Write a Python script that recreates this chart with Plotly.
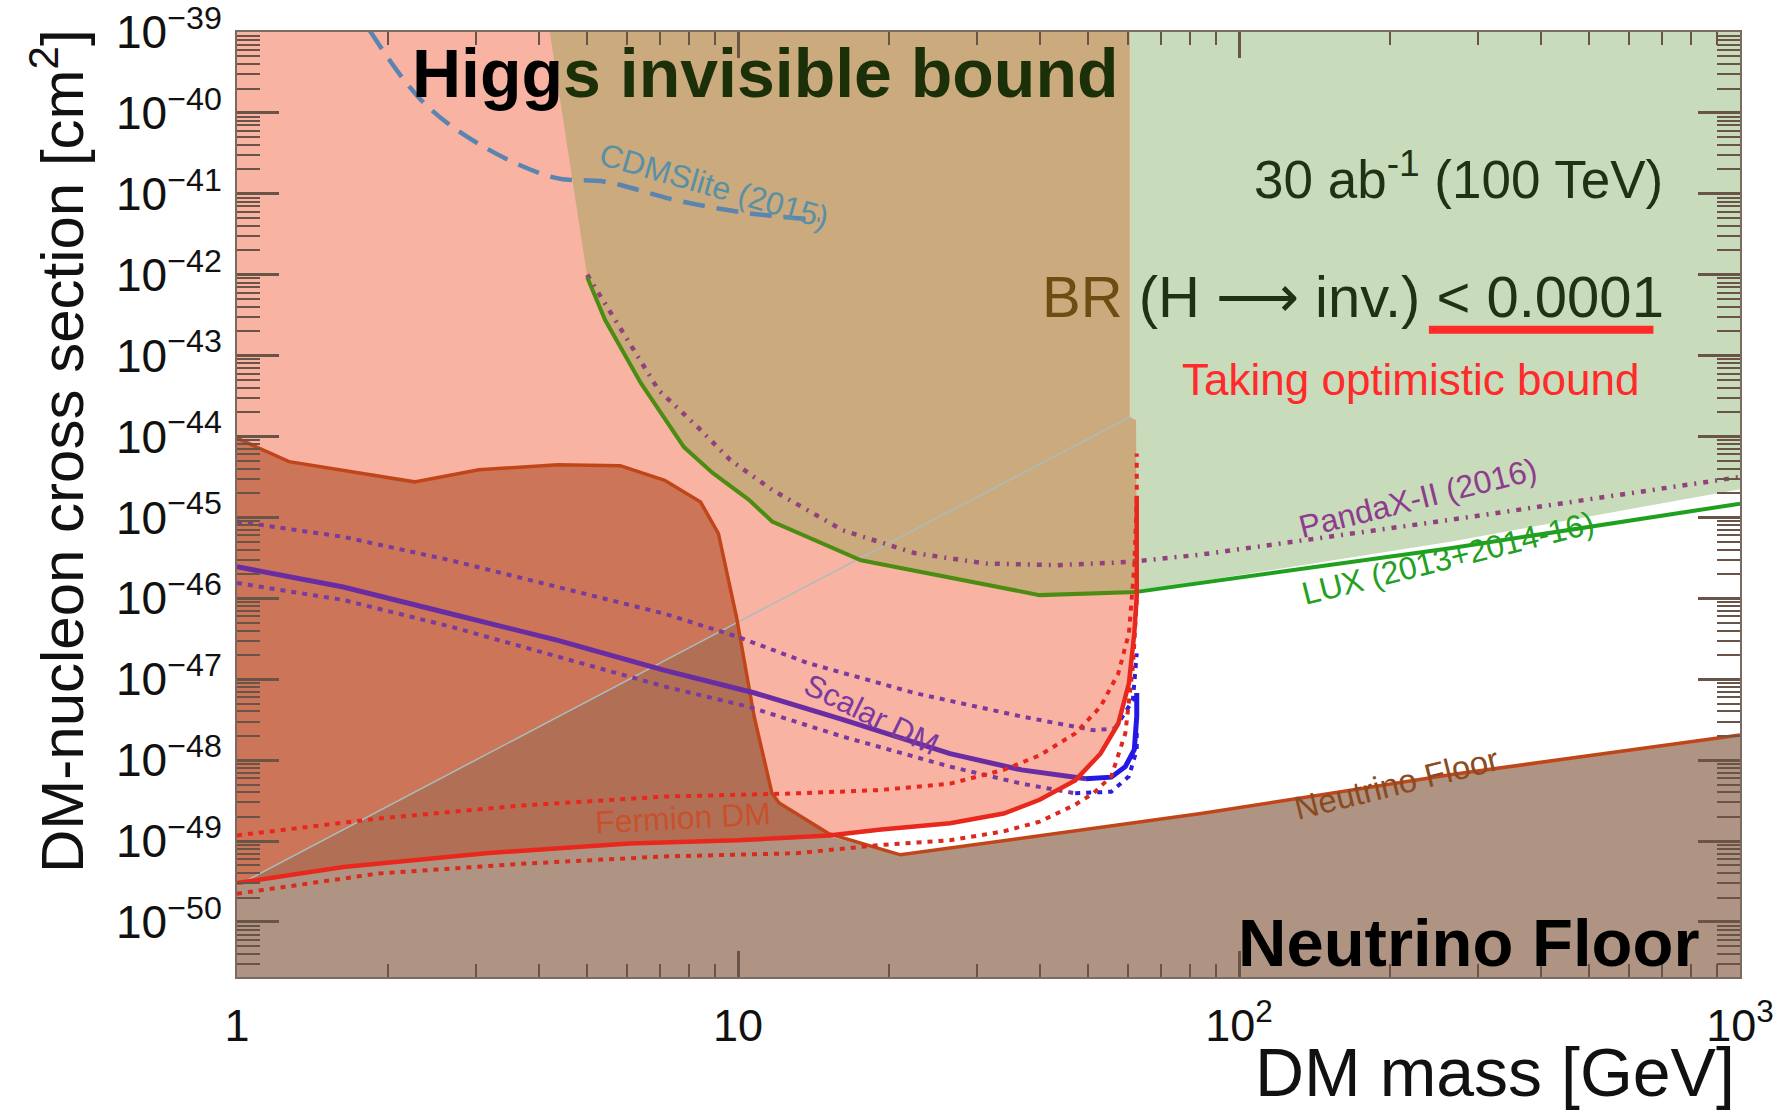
import plotly.graph_objects as go
import numpy as np

# ---------------- data (DM mass in GeV, log10 of cross section in cm^2) ----------------
fermion_mass = [1.0, 1.63, 3.14, 6.06, 10.0, 15.2, 19.1, 26.5, 33.9, 40.0, 47.1, 52.9, 57.4, 60.3, 61.8, 62.5, 62.5]
fermion_logsig = [-49.52, -49.32, -49.15, -49.03, -48.99, -48.93, -48.86, -48.78, -48.66, -48.49, -48.25,
                  -47.92, -47.55, -47.05, -46.43, -45.98, -44.74]

fermion_up_mass = [1.0, 1.92, 3.7, 7.14, 13.1, 19.1, 26.5, 33.9, 40.0, 47.1, 52.9, 57.4, 60.3, 61.8, 62.5, 62.5]
fermion_up_logsig = [-48.93, -48.72, -48.56, -48.45, -48.41, -48.37, -48.29, -48.12, -47.94, -47.67, -47.34,
                     -46.93, -46.43, -45.61, -44.79, -44.21]

fermion_lo_mass = [1.0, 1.92, 3.7, 7.14, 13.1, 19.1, 26.5, 33.9, 40.0, 47.1, 51.2, 55.6, 59.3, 61.4, 62.5]
fermion_lo_logsig = [-49.65, -49.40, -49.28, -49.19, -49.15, -49.05, -48.99, -48.88, -48.76, -48.55, -48.41,
                     -48.20, -47.67, -46.85, -46.02]

scalar_mass = [1.0, 1.63, 2.67, 4.37, 7.14, 10.8, 16.2, 26.5, 36.8, 49.5]
scalar_logsig = [-45.61, -45.86, -46.19, -46.52, -46.89, -47.17, -47.50, -47.92, -48.12, -48.23]
scalar_res_mass = [49.5, 55.6, 59.3, 61.8, 62.5, 62.5]
scalar_res_logsig = [-48.23, -48.21, -48.08, -47.87, -47.46, -47.17]

scalar_up_mass = [1.0, 1.63, 2.67, 4.37, 7.14, 9.93, 13.8, 22.5, 36.8, 51.2, 56.5]
scalar_up_logsig = [-45.05, -45.24, -45.53, -45.86, -46.19, -46.47, -46.80, -47.17, -47.46, -47.63, -47.61]
scalar_up_res_mass = [56.5, 61.4, 62.5]
scalar_up_res_logsig = [-47.61, -47.26, -46.68]

scalar_lo_mass = [1.0, 1.63, 2.67, 4.37, 7.14, 10.5, 16.2, 26.5, 36.8, 47.1]
scalar_lo_logsig = [-45.81, -46.02, -46.35, -46.72, -47.09, -47.34, -47.71, -48.08, -48.29, -48.41]
scalar_lo_res_mass = [47.1, 55.6, 60.3, 62.5, 62.5]
scalar_lo_res_logsig = [-48.41, -48.39, -48.20, -47.87, -47.60]

lux_mass = [5.0, 5.43, 6.4, 7.8, 8.9, 10.5, 11.7, 17.6, 40.0, 62.5, 83.7, 264, 1000]
lux_logsig = [-42.03, -42.56, -43.34, -44.13, -44.45, -44.78, -45.05, -45.53, -45.96, -45.92, -45.81, -45.38, -44.83]

pandax_mass = [5.0, 5.9, 6.95, 8.3, 9.65, 11.7, 16.2, 22.5, 31.3, 43.4, 60.3, 83.7, 264, 1000]
pandax_logsig = [-42.0, -42.72, -43.43, -43.88, -44.29, -44.66, -45.16, -45.44, -45.57, -45.59, -45.55,
                 -45.46, -45.03, -44.50]

cdms_mass = [1.84, 2.33, 3.03, 4.3, 5.43, 7.54, 10.5, 14.55]
cdms_logsig = [-38.98, -39.84, -40.38, -40.80, -40.85, -41.08, -41.24, -41.32]

floor_mass = [1.0, 1.63, 3.14, 6.06, 10.0, 15.2, 21.1, 84.0, 264, 1000]
floor_logsig = [-49.53, -49.33, -49.16, -49.04, -49.0, -48.94, -49.17, -48.66, -48.18, -47.69]

dark_mass = [1.0, 1.27, 2.26, 3.04, 4.37, 5.82, 7.14, 8.42, 9.14, 9.93, 10.77, 11.69, 12.08, 15.19]
dark_logsig = [-44.02, -44.31, -44.56, -44.41, -44.35, -44.36, -44.54, -44.81, -45.20, -46.23, -47.46,
               -48.41, -48.53, -48.91]

diag_mass = [1.0, 9.95, 60.5]
diag_logsig = [-49.55, -46.30, -43.76]

tan_left_mass = [4.21, 5.0]
tan_left_logsig = [-39.0, -42.02]
tan_right_mass = [62.3, 60.5, 60.5]
tan_right_logsig = [-43.8, -43.76, -39.0]

green_low_mass = [62.5, 83.7, 264, 1000]
green_low_logsig = [-45.92, -45.79, -45.30, -44.65]

x_tick_vals = [1, 10, 100, 1000]
x_tick_text = ["1", "10", "10<sup>2</sup>", "10<sup>3</sup>"]
y_tick_exp = list(range(-50, -38))
y_tick_text = ["10<sup>\u2212%d</sup>" % (-e) for e in y_tick_exp]

TOP = -39.0
BOTTOM = -51.0
XMAX = 1000.0


def s(v):
    return [10.0 ** a for a in v]


fig = go.Figure()


def poly(xs, ls, color):
    fig.add_trace(go.Scatter(x=xs, y=s(ls), fill="toself", fillcolor=color, mode="lines",
                             line=dict(width=0, color=color), hoverinfo="skip", showlegend=False))


def line(xs, ls, color, width, dash="solid", shape="linear"):
    fig.add_trace(go.Scatter(x=xs, y=s(ls), mode="lines",
                             line=dict(color=color, width=width, dash=dash, shape=shape),
                             hoverinfo="skip", showlegend=False))


# pink region (above fermion curve, below Higgs threshold)
pink_x = [1.0, 62.5] + fermion_mass[::-1]
pink_l = [TOP, TOP] + fermion_logsig[::-1]
poly(pink_x, pink_l, "#F9B3A3")

# dark region
fl_x = [m for m in fermion_mass if m <= 15.2]
fl_l = fermion_logsig[:len(fl_x)]
poly(dark_mass + fl_x[::-1], dark_logsig + fl_l[::-1], "#CC7559")

# darker part below the diagonal
sub_x = [diag_mass[0], diag_mass[1]] + [m for m in dark_mass if m > diag_mass[1]]
sub_l = [diag_logsig[0], diag_logsig[1]] + [l for m, l in zip(dark_mass, dark_logsig) if m > diag_mass[1]]
poly(sub_x + fl_x[::-1], sub_l + fl_l[::-1], "#B17056")

# neutrino floor
poly(floor_mass + [XMAX, 1.0], floor_logsig + [BOTTOM, BOTTOM], "#B09483")

# green region (excluded by LUX / PandaX)
poly([tan_right_mass[2], XMAX] + green_low_mass[::-1] + tan_right_mass[:2],
     [TOP, TOP] + green_low_logsig[::-1] + tan_right_logsig[:2], "#C8DBBA")

# tan region (Higgs invisible)
lux_in_x = [m for m in lux_mass if m <= 62.5]
lux_in_l = lux_logsig[:len(lux_in_x)]
poly(tan_left_mass + lux_in_x[1:] + tan_right_mass, tan_left_logsig + lux_in_l[1:] + tan_right_logsig, "#CBAA7D")

# thin diagonal line
line(diag_mass, diag_logsig, "#A9BDBE", 1.5)

# dark region outline + neutrino floor line
fr_x = [m for m in floor_mass if m >= 21.1]
fr_l = floor_logsig[-len(fr_x):]
line(dark_mass + fr_x, dark_logsig + fr_l, "#C0461A", 3.5)

# experiments
line(cdms_mass, cdms_logsig, "#5B84B0", 4.5, dash="22px,12px", shape="spline")
line(pandax_mass, pandax_logsig, "#93407F", 4.5, dash="5px,7px,2px,7px")
lux_out_x = [m for m in lux_mass if m >= 62.5]
lux_out_l = lux_logsig[-len(lux_out_x):]
line(lux_in_x, lux_in_l, "#4C8C12", 4)
line(lux_out_x, lux_out_l, "#1FA01F", 4)

# scalar DM
line(scalar_up_mass, scalar_up_logsig, "#7A3A9E", 4, dash="5px,6px")
line(scalar_lo_mass, scalar_lo_logsig, "#7A3A9E", 4, dash="5px,6px")
line(scalar_mass, scalar_logsig, "#6A2CA2", 5)
line(scalar_up_res_mass, scalar_up_res_logsig, "#2A1EE0", 4, dash="5px,6px")
line(scalar_lo_res_mass, scalar_lo_res_logsig, "#2A1EE0", 4, dash="5px,6px")
line(scalar_res_mass, scalar_res_logsig, "#2418E6", 5)

# fermion DM
line(fermion_up_mass, fermion_up_logsig, "#E8261E", 4, dash="5px,6px")
line(fermion_lo_mass, fermion_lo_logsig, "#D92A1E", 4, dash="5px,6px")
line(fermion_mass, fermion_logsig, "#E8281C", 4.5)

# ---------------- annotations ----------------
FONT = "Liberation Sans, Arial, sans-serif"


def ann(x, y, text, size, color, angle=0, xanchor="center", yanchor="middle", bold=False, xref="x", yref="y"):
    fig.add_annotation(x=x, y=y, xref=xref, yref=yref, text=("<b>%s</b>" % text) if bold else text,
                       showarrow=False, textangle=angle, xanchor=xanchor, yanchor=yanchor,
                       font=dict(family=FONT, size=size, color=color))


ann(1.054, -39.51, "Higg<span style='color:#1B3008'>s invisible bound</span>", 68, "#000000", bold=True)
ann(2.459, -50.25, "Neutrino Floor", 67, "#000000", bold=True)
ann(2.438, -40.77, "30 ab<sup>-1</sup> (100 TeV)", 53, "#1E3214")
ann(2.228, -42.27, "<span style='color:#6E4C12'>BR</span> (H \u27f6 inv.) &lt; 0.0001", 58, "#1E3214")
ann(2.343, -43.30, "Taking optimistic bound", 44, "#FF2A2A")
ann(0.953, -40.90, "CDMSlite (2015)", 32, "#5A90A6", angle=16)
ann(2.358, -44.76, "PandaX-II (2016)", 32, "#8E3C8E", angle=-14)
ann(2.418, -45.50, "LUX (2013+2014-16)", 32, "#22A022", angle=-14)
ann(1.266, -47.44, "Scalar DM", 31, "#7A3AA0", angle=26)
ann(0.890, -48.72, "Fermion DM", 32, "#C8502D", angle=-3)
ann(2.315, -48.29, "Neutrino Floor", 33, "#8B4A20", angle=-14)

# axis titles
ann(-0.1195, 0.557, "DM-nucleon cross section [cm<sup>2</sup>]", 60, "#111111", angle=-90,
    xref="paper", yref="paper")
ann(0.9977, -0.1425, "DM mass [GeV]", 68, "#111111", xanchor="right", yanchor="bottom",
    xref="paper", yref="paper")

# red underline
fig.add_shape(type="line", xref="paper", yref="paper", x0=0.793, x1=0.9424, y0=0.6850, y1=0.6850,
              line=dict(color="#FF2A2A", width=8))

# ---------------- axes ----------------
minor_x = [k * 10.0 ** n for n in range(0, 3) for k in range(2, 10)]
minor_y = [k * 10.0 ** n for n in range(-51, -39) for k in range(2, 10) if -50.68 < np.log10(k * 10.0 ** n) < -39]

fig.update_xaxes(type="log", range=[0, 3], showgrid=False, zeroline=False, automargin=False,
                 showline=True, linecolor="#7A6A60", linewidth=2, mirror="ticks",
                 ticks="inside", ticklen=26, tickwidth=2.5, tickcolor="#6A5448",
                 tickvals=x_tick_vals, ticktext=x_tick_text, ticklabelstandoff=8,
                 ticklabeloverflow="allow",
                 tickfont=dict(family=FONT, size=45, color="#111111"),
                 minor=dict(ticks="inside", ticklen=13, tickwidth=2, tickcolor="#6A5448",
                            tickvals=minor_x, showgrid=False))
fig.update_yaxes(type="log", range=[-50.68, -39], showgrid=False, zeroline=False, automargin=False,
                 showline=True, linecolor="#7A6A60", linewidth=2, mirror="ticks",
                 ticks="inside", ticklen=42, tickwidth=2.5, tickcolor="#6A5448",
                 tickvals=[10.0 ** e for e in y_tick_exp], ticktext=y_tick_text, ticklabelstandoff=4,
                 ticklabeloverflow="allow",
                 tickfont=dict(family=FONT, size=46, color="#111111"),
                 minor=dict(ticks="inside", ticklen=23, tickwidth=2, tickcolor="#6A5448",
                            tickvals=minor_y, showgrid=False))

fig.update_layout(width=1785, height=1114, margin=dict(l=237, r=45, t=32, b=137, autoexpand=False),
                  plot_bgcolor="white", paper_bgcolor="white", showlegend=False, hovermode=False)

fig.write_html("out.html", config={"displayModeBar": False})
